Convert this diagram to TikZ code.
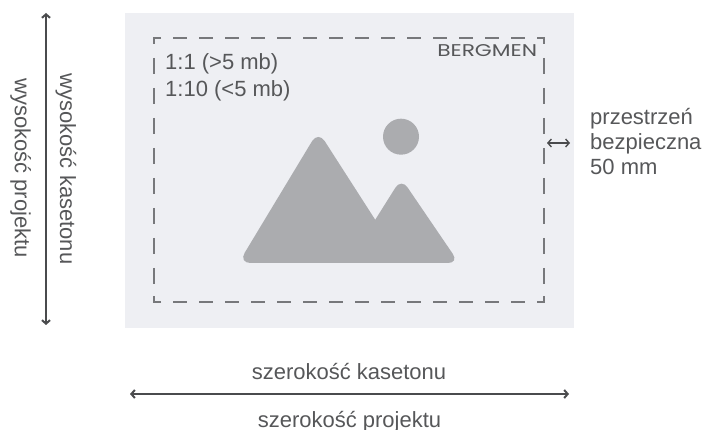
\documentclass[tikz,border=0pt]{standalone}
\usepackage{fontspec}
\setmainfont{Liberation Sans}
\newfontfamily\logofont{Poppins}
\usetikzlibrary{arrows.meta}
\definecolor{panelc}{HTML}{EEEFF3}
\definecolor{guidec}{HTML}{77787B}
\definecolor{inkc}{HTML}{565759}
\definecolor{glyphc}{HTML}{ABACAF}
\definecolor{arrowc}{HTML}{4A4B4D}
\tikzset{
  label text/.style={inner sep=0pt,text=inkc,font=\fontsize{22}{22}\selectfont},
  side text/.style={label text,anchor=base west},
  mid text/.style={label text,anchor=base},
  vert text/.style={label text,anchor=base,rotate=-90},
  guide line/.style={draw=guidec,line width=1.6pt},
  dim arrow/.style={draw=arrowc,line width=2pt,{Straight Barb[length=3.5pt,width=8pt]}-{Straight Barb[length=3.5pt,width=8pt]}},
  hfrag/.style={guide line,dash pattern=on 14pt off 12pt},
  vfrag/.style={guide line,dash pattern=on 16.5pt off 13.5pt},
}
\begin{document}
\begin{tikzpicture}[x=1pt,y=-1pt]
\useasboundingbox (0,0) rectangle (702,430);
\fill[panelc] (125,13) rectangle (574,328);
% safe-zone frame
\draw[guide line] (161,38) -- (154,38) -- (154,44);
\draw[guide line] (537,38) -- (544,38) -- (544,44);
\draw[guide line] (161,302) -- (154,302) -- (154,296);
\draw[guide line] (537,302) -- (544,302) -- (544,296);
\draw[hfrag] (173,38) -- (526,38);
\draw[hfrag] (173,302) -- (526,302);
\draw[vfrag] (154,58) -- (154,285);
\draw[vfrag] (544,58) -- (544,285);
% image glyph
\fill[glyphc,rounded corners=12pt] (318.2,131) -- (238.5,263) -- (403,263) -- cycle;
\fill[glyphc,rounded corners=11pt] (401.3,178.3) -- (348,263) -- (459,263) -- cycle;
\fill[glyphc] (401,136.7) circle[radius=18];
% texts
\node[inner sep=0pt,anchor=base west,text=inkc,xscale=1.28] (logo) at (437,57) {\logofont\fontsize{17}{17}\selectfont BERGMEN};
\node[side text] (r1) at (165,70) {1:1 (>5 mb)};
\node[side text] (r2) at (165,97) {1:10 (<5 mb)};
\node[side text] (s1) at (590,125) {przestrzeń};
\node[side text] (s2) at (590,150) {bezpieczna};
\node[side text] (s3) at (590,175) {50 mm};
\node[vert text] (h1) at (60,169) {wysokość kasetonu};
\node[vert text] (h2) at (15,168) {wysokość projektu};
\node[mid text] (w1) at (349,380) {szerokość kasetonu};
\node[mid text] (w2) at (349.5,428) {szerokość projektu};
% dimension arrows
\coordinate (ht) at (46,13);
\coordinate (hb) at (46,325);
\coordinate (wl) at (130,394);
\coordinate (wr) at (569,394);
\coordinate (sl) at (547,143);
\coordinate (sr) at (570,143);
\draw[dim arrow] (ht) -- (hb);
\draw[dim arrow] (wl) -- (wr);
\draw[dim arrow,line width=1.4pt] (sl) -- (sr);
\end{tikzpicture}
\end{document}
